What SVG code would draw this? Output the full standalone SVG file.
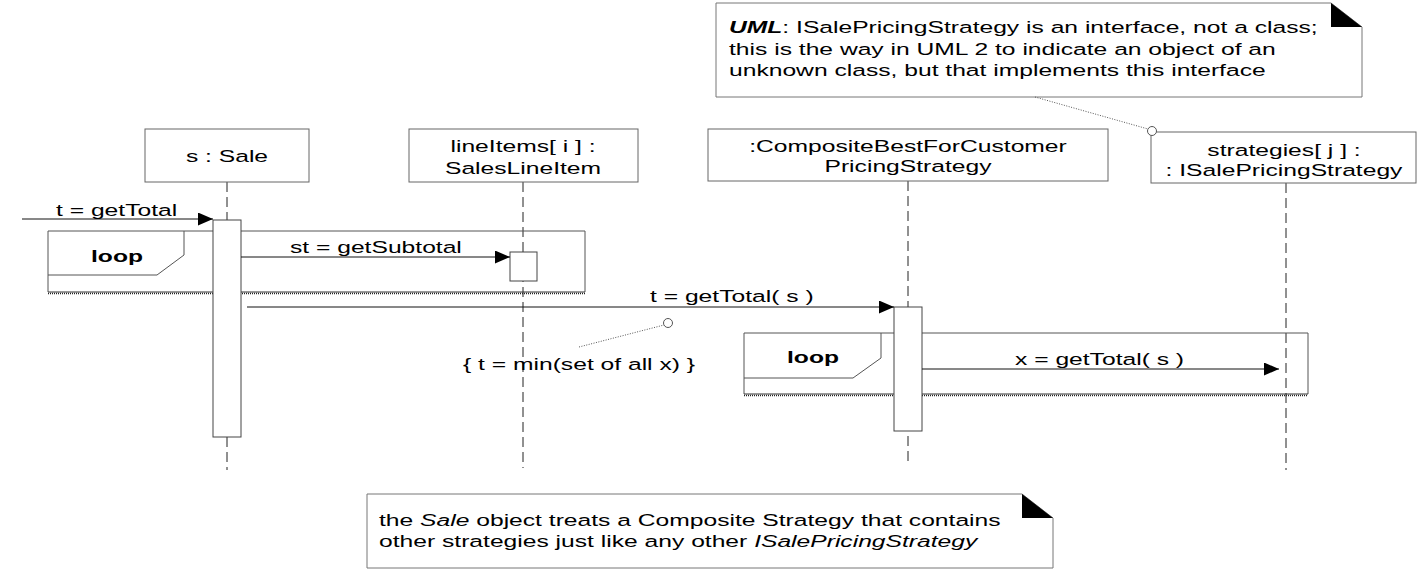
<svg xmlns="http://www.w3.org/2000/svg" width="1420" height="572" viewBox="0 0 1420 572">
<style>
  .t { font-family: "Liberation Sans", Arial, sans-serif; font-size: 17px; fill: #000; }
  .b { font-weight: bold; }
  .i { font-style: italic; }
  .mid { text-anchor: middle; }
  .box { fill: #fff; stroke: #666; stroke-width: 1; }
  .note { fill: #fff; stroke: #777; stroke-width: 1; }
  .life { stroke: #222; stroke-width: 1; stroke-dasharray: 10 5; fill: none; }
  .act { fill: #fff; stroke: #444; stroke-width: 1; }
  .msg { stroke: #111; stroke-width: 1; fill: none; marker-end: url(#arrow); }
  .frame { fill: none; stroke: #555; stroke-width: 1; }
  .dot { stroke: #222; stroke-width: 1.5; stroke-dasharray: 1 1; fill: none; }
  .anchor { stroke: #555; stroke-width: 1; stroke-dasharray: 1 1.5; fill: none; }
</style>
<defs>
  <marker id="arrow" markerUnits="userSpaceOnUse" markerWidth="16" markerHeight="14" refX="15" refY="6.5" orient="auto">
    <path d="M0,0 L15,6.5 L0,13 z" fill="#000"/>
  </marker>
</defs>
<rect width="1420" height="572" fill="#fff"/>

<!-- top note -->
<g id="note-uml">
  <path class="note" d="M716,3 H1331 L1362,27 V97 H716 Z"/>
  <path d="M1331,3 L1331,27 L1362,27 Z" fill="#000"/>
  <text class="t" transform="translate(729,33) scale(1.45,1)"><tspan class="b i">UML</tspan>: ISalePricingStrategy is an interface, not a class;</text>
  <text class="t" transform="translate(729,55) scale(1.45,1)">this is the way in UML 2 to indicate an object of an</text>
  <text class="t" transform="translate(729,76) scale(1.45,1)">unknown class, but that implements this interface</text>
</g>

<!-- lifelines -->
<g id="sale">
  <line class="life" x1="227" y1="182" x2="227" y2="470"/>
  <rect class="box" x="145" y="129" width="164" height="53"/>
  <text class="t mid" transform="translate(227,162) scale(1.45,1)">s : Sale</text>
</g>
<g id="lineitems">
  <line class="life" x1="523" y1="182" x2="523" y2="468"/>
  <rect class="box" x="409" y="129" width="229" height="53"/>
  <text class="t mid" transform="translate(523,152) scale(1.45,1)">lineItems[ i ] :</text>
  <text class="t mid" transform="translate(523,174) scale(1.45,1)">SalesLineItem</text>
</g>
<g id="composite">
  <line class="life" x1="908" y1="181" x2="908" y2="463"/>
  <rect class="box" x="708" y="129" width="400" height="52"/>
  <text class="t mid" transform="translate(908,152) scale(1.45,1)">:CompositeBestForCustomer</text>
  <text class="t mid" transform="translate(908,172) scale(1.45,1)">PricingStrategy</text>
</g>
<g id="strategies">
  <line class="life" x1="1286" y1="183" x2="1286" y2="470"/>
  <rect class="box" x="1151" y="132" width="265" height="51"/>
  <text class="t mid" transform="translate(1284,156) scale(1.45,1)">strategies[ j ] :</text>
  <text class="t mid" transform="translate(1284,176) scale(1.45,1)">: ISalePricingStrategy</text>
</g>

<!-- loop frames -->
<g id="loop1">
  <path class="frame" d="M48,292 V231 H585 V292"/>
  <line x1="48" y1="292" x2="585" y2="292" stroke="#333" stroke-width="1"/>
  <line class="dot" x1="48" y1="293.5" x2="585" y2="293.5"/>
  <path class="frame" d="M48,275 H157 L184,255 V231"/>
  <text class="t b" transform="translate(91,262) scale(1.45,1)">loop</text>
</g>
<g id="loop2">
  <path class="frame" d="M744,394 V333 H1308 V394"/>
  <line x1="744" y1="394" x2="1308" y2="394" stroke="#333" stroke-width="1"/>
  <line class="dot" x1="744" y1="395.5" x2="1308" y2="395.5"/>
  <path class="frame" d="M744,378 H853 L881,358 V333"/>
  <text class="t b" transform="translate(787,363) scale(1.45,1)">loop</text>
</g>

<!-- activations -->
<g id="activations">
  <rect class="act" x="213" y="220" width="28" height="217"/>
  <rect class="act" x="510" y="252" width="27" height="29"/>
  <rect class="act" x="894" y="307" width="28" height="124"/>
</g>

<!-- connectors -->
<g id="connectors">
  <line class="msg" x1="22" y1="219" x2="213" y2="219"/>
  <line class="msg" x1="241" y1="257" x2="510" y2="257"/>
  <line class="msg" x1="247" y1="307" x2="894" y2="307"/>
  <line class="msg" x1="922" y1="369" x2="1279" y2="369"/>
  <line class="anchor" x1="1035" y1="97" x2="1148" y2="129"/>
  <circle cx="1152" cy="131" r="4.5" fill="#fff" stroke="#555" stroke-width="1"/>
  <line class="anchor" x1="579" y1="347" x2="664" y2="325"/>
  <circle cx="668" cy="323" r="4.5" fill="#fff" stroke="#555" stroke-width="1"/>
</g>

<!-- message labels -->
<g id="labels">
  <text class="t" transform="translate(56,216) scale(1.45,1)">t = getTotal</text>
  <text class="t" transform="translate(290,253) scale(1.45,1)">st = getSubtotal</text>
  <text class="t" transform="translate(650,302) scale(1.45,1)">t = getTotal( s )</text>
  <text class="t" transform="translate(1015,365) scale(1.45,1)">x = getTotal( s )</text>
</g>

<g id="constraint">
  <text class="t" transform="translate(463,370) scale(1.45,1)">{ t = min(set of all x) }</text>
</g>

<!-- bottom note -->
<g id="note-sale">
  <path class="note" d="M367,494 H1022 L1053,518 V568 H367 Z"/>
  <path d="M1022,494 L1022,518 L1053,518 Z" fill="#000"/>
  <text class="t" transform="translate(379,526) scale(1.45,1)">the <tspan class="i">Sale</tspan> object treats a Composite Strategy that contains</text>
  <text class="t" transform="translate(379,547) scale(1.45,1)">other strategies just like any other <tspan class="i">ISalePricingStrategy</tspan></text>
</g>
</svg>
